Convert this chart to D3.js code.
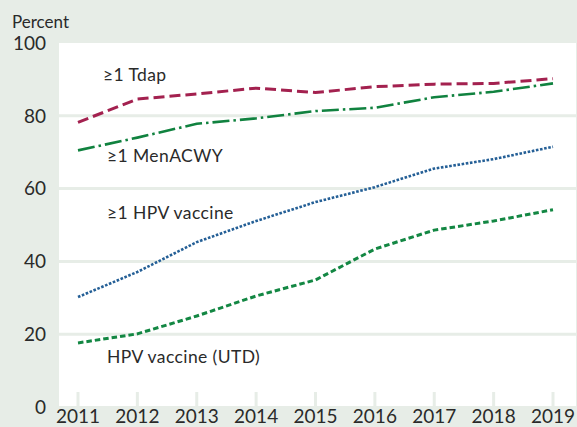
<!DOCTYPE html>
<html><head><meta charset="utf-8">
<script src="https://cdn.jsdelivr.net/npm/d3@7"></script>
<style>
html,body{margin:0;padding:0;background:#e7ede7;}
svg{display:block;font-family:Lato,"Open Sans",sans-serif;}
</style></head>
<body>
<script>
const years = [2011,2012,2013,2014,2015,2016,2017,2018,2019];
const tdap = [78.2,84.6,86.0,87.6,86.4,88.0,88.7,88.9,90.2];
const menacwy = [70.5,74.0,77.8,79.3,81.3,82.2,85.1,86.6,88.9];
const hpv1 = [30.2,37.1,45.3,51.1,56.3,60.4,65.5,68.1,71.5];
const hpvUtd = [17.6,20.1,25.0,30.5,34.9,43.4,48.6,51.1,54.2];
const yTicks = [0,20,40,60,80,100];
const seriesNames = ["\u22651 Tdap","\u22651 MenACWY","\u22651 HPV vaccine","HPV vaccine (UTD)"];

const W=577,H=427;
const bg="#e7ede7";
const txt="#2a2a2a";
const svg=d3.select("body").append("svg").attr("width",W).attr("height",H);
svg.append("rect").attr("width",W).attr("height",H).attr("fill",bg);

const plotL=59, plotR=576, plotT=43, plotB=406;
const x=d3.scaleLinear().domain([2011,2019]).range([78,553]);
const y=d3.scaleLinear().domain([0,100]).range([407,43]);

svg.append("rect").attr("x",plotL).attr("y",plotT).attr("width",plotR-plotL).attr("height",plotB-plotT).attr("fill","#fff");

// gridlines
svg.append("g").selectAll("line").data(yTicks.filter(d=>d>0&&d<100)).join("line")
  .attr("x1",plotL).attr("x2",plotR).attr("y1",d=>y(d)).attr("y2",d=>y(d))
  .attr("stroke",bg).attr("stroke-width",3);

// x ticks
svg.append("g").selectAll("line").data(years).join("line")
  .attr("x1",d=>x(d)).attr("x2",d=>x(d)).attr("y1",392).attr("y2",plotB)
  .attr("stroke",bg).attr("stroke-width",3);

// y labels
svg.append("g").selectAll("text").data(yTicks).join("text")
  .attr("x",46).attr("y",d=>y(d)).attr("dy","0.36em").attr("text-anchor","end")
  .attr("font-size",19).attr("fill",txt).text(d=>d);
// x labels
svg.append("g").selectAll("text").data(years).join("text")
  .attr("x",d=>x(d)).attr("y",416).attr("dy","0.36em").attr("text-anchor","middle")
  .attr("font-size",19).attr("fill",txt).text(d=>d);

svg.append("text").attr("x",12).attr("y",22).attr("dy","0.36em").attr("font-size",17).attr("fill",txt).text("Percent");

const line=d3.line().x((d,i)=>x(years[i])).y(d=>y(d));
const styles=[
  {data:tdap,color:"#a3214f",dash:"11,5",w:3,cap:"butt"},
  {data:menacwy,color:"#10823f",dash:"17,4,2.5,4",w:2.6,cap:"butt"},
  {data:hpv1,color:"#245f96",dash:"2.6,1.6",w:2.6,cap:"butt"},
  {data:hpvUtd,color:"#138743",dash:"5.5,3",w:3,cap:"butt"}
];
svg.append("g").selectAll("path").data(styles).join("path")
  .attr("d",d=>line(d.data)).attr("fill","none").attr("stroke",d=>d.color)
  .attr("stroke-width",d=>d.w).attr("stroke-dasharray",d=>d.dash).attr("stroke-linecap",d=>d.cap);

const labelPos=[[103,75],[107,156],[107,213],[107,357]];
svg.append("g").selectAll("text").data(seriesNames).join("text")
  .attr("x",(d,i)=>labelPos[i][0]).attr("y",(d,i)=>labelPos[i][1]).attr("dy","0.36em")
  .attr("font-size",17.5).attr("letter-spacing",0.4).attr("fill",txt).text(d=>d);
</script>
</body></html>
